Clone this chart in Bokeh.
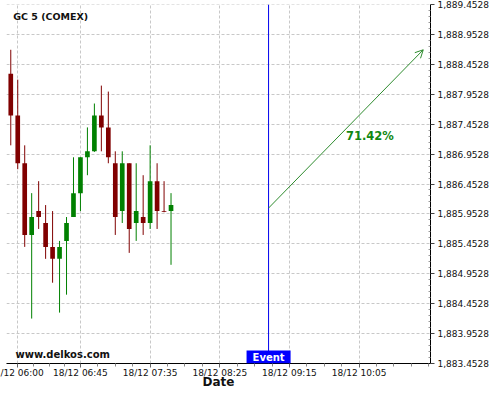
import datetime as dt
from bokeh.plotting import figure
from bokeh.models import (Range1d, FixedTicker, DatetimeTickFormatter, NumeralTickFormatter,
                          Span, Label, Arrow, OpenHead)
from bokeh.embed import file_html
from bokeh.resources import INLINE

# ---------------- data ----------------
day = dt.datetime(2020, 12, 18)
candle_start = "05:55"
candle_step_min = 5
opens  = [1888.3, 1887.6, 1886.8, 1885.6, 1886.0, 1885.8, 1885.4, 1885.2, 1885.5, 1885.9, 1886.3, 1886.9,
          1887.0, 1887.6, 1887.4, 1886.8, 1886.0, 1886.8, 1885.8, 1885.9, 1885.8, 1886.5, 1886.0, 1886.0]
highs  = [1888.7, 1888.2, 1887.1, 1886.3, 1886.5, 1886.1, 1886.0, 1885.5, 1885.9, 1886.9, 1886.9, 1887.4,
          1887.8, 1888.1, 1888.0, 1887.0, 1887.0, 1886.8, 1886.8, 1886.6, 1887.1, 1886.8, 1886.5, 1886.3]
lows   = [1887.1, 1886.7, 1885.4, 1884.2, 1885.7, 1885.2, 1884.8, 1884.3, 1884.6, 1885.9, 1886.0, 1886.6,
          1886.99, 1887.0, 1886.8, 1885.6, 1885.8, 1885.3, 1885.5, 1885.6, 1885.7, 1885.7, 1885.98, 1885.1]
closes = [1887.6, 1886.8, 1885.6, 1885.9, 1885.9, 1885.4, 1885.2, 1885.4, 1885.8, 1886.3, 1886.9, 1887.0,
          1887.6, 1887.4, 1886.9, 1885.9, 1886.8, 1885.7, 1886.0, 1885.8, 1886.5, 1886.0, 1885.99, 1886.1]

event_time = "09:00"
arrow_start = ("09:00", 1886.05)
arrow_end = ("10:51", 1888.70)
pct_text = "71.42%"
pct_pos = ("09:55:30", 1887.26)

x_tick_times = ["06:00", "06:45", "07:35", "08:25", "09:15", "10:05"]
x_tick_label_overrides = {"06:00": "/12 06:00"}   # first label is cut by the left edge
y_ticks = [1883.4528, 1883.9528, 1884.4528, 1884.9528, 1885.4528, 1885.9528, 1886.4528,
           1886.9528, 1887.4528, 1887.9528, 1888.4528, 1888.9528, 1889.4528]

title_text = "GC 5 (COMEX)"
site_text = "www.delkos.com"
x_label = "Date"

# ---------------- helpers ----------------
EPOCH = dt.datetime(1970, 1, 1)


def t(hms):
    parts = [int(v) for v in hms.split(":")]
    while len(parts) < 3:
        parts.append(0)
    return day.replace(hour=parts[0], minute=parts[1], second=parts[2])


def ms(d):
    return (d - EPOCH).total_seconds() * 1000.0


MIN = 60000.0
t0 = t(candle_start)
times = [t0 + dt.timedelta(minutes=candle_step_min * i) for i in range(len(opens))]
xs = [ms(v) for v in times]
up = [c >= o for o, c in zip(opens, closes)]
colors = ["#008000" if u else "#800000" for u in up]
tops = [max(o, c) for o, c in zip(opens, closes)]
bots = [min(o, c) for o, c in zip(opens, closes)]

major_x = [ms(t(v)) for v in x_tick_times]
minor_x = []
for a, b in zip(major_x[:-1], major_x[1:]):
    step = (b - a) / 4
    minor_x += [a + step * k for k in range(1, 4)]
last_step = (major_x[-1] - major_x[-2]) / 4
minor_x += [major_x[-1] + last_step * k for k in range(1, 5)]

minor_y = []
for a in y_ticks[:-1]:
    minor_y += [a + 0.1 * k for k in range(1, 5)]

six = ms(t("06:00"))
p = figure(width=492, height=392, output_backend="svg", toolbar_location=None,
           x_axis_type="datetime", y_axis_location="right",
           x_range=Range1d(six - 8.07 * MIN, six + 296.2 * MIN),
           y_range=Range1d(1883.4478, 1889.4578),
           min_border_left=6, min_border_right=60, min_border_top=4, min_border_bottom=29)
p.outline_line_color = None
p.background_fill_color = "white"
p.border_fill_color = "white"

# grids
for g in (p.xgrid, p.ygrid):
    g.grid_line_color = "#c8c8c8"
    g.grid_line_dash = "3 2"
    g.grid_line_width = 1

# x axis
xa = p.xaxis[0]
xa.ticker = FixedTicker(ticks=major_x, minor_ticks=minor_x)
fmt = "%d/%m %H:%M"
xa.formatter = DatetimeTickFormatter(minutes=fmt, hourmin=fmt, hours=fmt, minsec=fmt,
                                     seconds=fmt, days=fmt, months=fmt, years=fmt)
xa.major_label_overrides = {ms(t(k)): v for k, v in x_tick_label_overrides.items()}
xa.major_label_text_font = "DejaVu Sans"
xa.major_label_text_font_size = "9px"
xa.major_label_text_color = "#111111"
xa.major_label_standoff = 0
xa.major_tick_in = 0
xa.major_tick_out = 4
xa.minor_tick_in = 0
xa.minor_tick_out = 3
xa.major_tick_line_color = "#666666"
xa.minor_tick_line_color = "#888888"
xa.axis_line_color = "black"
xa.axis_line_width = 1
xa.axis_label = x_label
xa.axis_label_text_font = "DejaVu Sans"
xa.axis_label_text_font_size = "12px"
xa.axis_label_text_font_style = "bold"
xa.axis_label_text_color = "#111111"
xa.axis_label_text_baseline = "alphabetic"
xa.axis_label_standoff = -6

# y axis
ya = p.yaxis[0]
ya.ticker = FixedTicker(ticks=y_ticks, minor_ticks=minor_y)
ya.formatter = NumeralTickFormatter(format="0,0.0000")
ya.major_label_text_font = "DejaVu Sans"
ya.major_label_text_font_size = "9px"
ya.major_label_text_color = "#111111"
ya.major_label_standoff = 3
ya.major_tick_in = 0
ya.major_tick_out = 4
ya.minor_tick_in = 2
ya.minor_tick_out = 0
ya.major_tick_line_color = "#444444"
ya.minor_tick_line_color = "#999999"
ya.axis_line_color = "black"
ya.axis_line_width = 1

# candles
p.segment(x0=xs, y0=highs, x1=xs, y1=lows, line_color=colors, line_width=1)
p.vbar(x=xs, width=3.35 * MIN, top=tops, bottom=bots, fill_color=colors, line_color=None)

# event line
p.add_layout(Span(location=ms(t(event_time)), dimension="height", line_color="#0000ee", line_width=1))

# arrow
arrow_color = "#2e8b2e"
p.add_layout(Arrow(end=OpenHead(size=8, line_color=arrow_color, line_width=1),
                   x_start=ms(t(arrow_start[0])), y_start=arrow_start[1],
                   x_end=ms(t(arrow_end[0])), y_end=arrow_end[1],
                   line_color=arrow_color, line_width=1))

p.add_layout(Label(x=ms(t(pct_pos[0])), y=pct_pos[1], text=pct_text, text_align="left",
                   text_baseline="middle", text_font="DejaVu Sans", text_font_size="11.5px",
                   text_font_style="bold", text_color="#118811"))

# texts
p.add_layout(Label(x=6.7, y=347.3, x_units="screen", y_units="screen", text=title_text,
                   text_font="DejaVu Sans", text_font_size="9.5px", text_font_style="bold",
                   text_baseline="middle", text_color="#111111"))
p.add_layout(Label(x=9, y=9, x_units="screen", y_units="screen", text=site_text,
                   text_font="DejaVu Sans", text_font_size="10px", text_font_style="bold",
                   text_baseline="middle", text_color="#111111"))
p.add_layout(Label(x=ms(t(event_time)), y=0, y_units="screen", text="Event",
                   text_align="center", text_baseline="bottom",
                   text_font="DejaVu Sans", text_font_size="10px", text_font_style="bold",
                   text_color="white", background_fill_color="#0000ff", padding=(6, 1)))

open("out.html", "w").write(file_html(p, INLINE))
